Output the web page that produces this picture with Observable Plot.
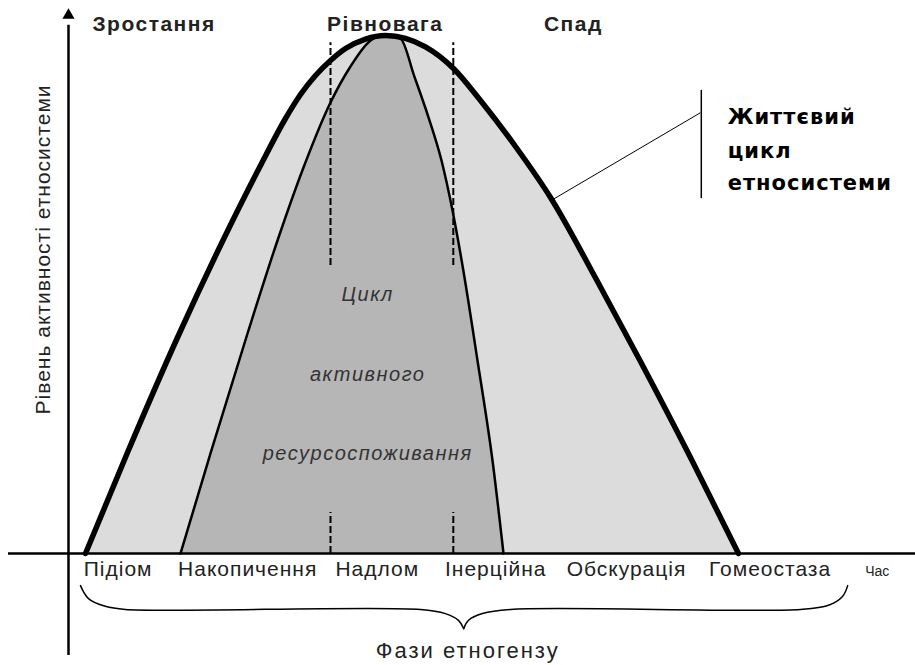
<!DOCTYPE html>
<html>
<head>
<meta charset="utf-8">
<script src="https://cdn.jsdelivr.net/npm/d3@7"></script>
<script src="https://cdn.jsdelivr.net/npm/@observablehq/plot@0.6"></script>
<style>
  body { margin: 0; background: #fff; }
</style>
</head>
<body>
<div id="chart"></div>
<script>
// Life cycle of the ethnic system (outer curve): time vs activity level
const outerT = [2.125, 7.375, 13.625, 19, 24, 27.125, 29, 30.875, 32.75, 34.625, 37.125, 39.625, 42.125, 44.625, 48.125, 51.5, 55.875, 60.25, 66.125, 71.5, 77.75, 83.75];
const outerA = [0, 19.5, 41.7, 59.46, 74.9, 83.98, 88.61, 92.28, 95.17, 97.49, 99.32, 100, 99.46, 97.8, 93.63, 87.45, 78.57, 68.73, 52.51, 37.07, 18.53, 0];

// Cycle of active resource consumption (inner curve)
const innerT = [14, 17.75, 22.375, 26.125, 29.375, 32.75, 35.25, 37.75, 39.75, 41.5, 43.25, 45, 46.625, 48, 49.25, 51.125, 53, 54.375];
const innerA = [0, 19.31, 42.47, 60.42, 74.52, 87.07, 94.02, 99.03, 100.19, 99.42, 92.0, 84.2, 75.87, 66.22, 55.6, 37.26, 17.95, 0];

// Phase boundaries (dashed)
const boundaryT = [32.75, 48.1];

// Phases of ethnogenesis (x-axis labels)
const phases = ["Підіом", "Накопичення", "Надлом", "Інерційна", "Обскурація", "Гомеостаза"];
const phaseT = [6.2, 22.4, 38.6, 53.4, 69.75, 87.7];

// Stages (top labels)
const stages = ["Зростання", "Рівновага", "Спад"];
const stageT = [10.7, 39.6, 63.1];

// Annotation text
const lifeLines = ["Життєвий", "цикл", "етносистеми"];
const lifeA = [84.3, 77.7, 71.5];
const cycleLines = ["Цикл", "активного", "ресурсоспоживання"];
const cycleA = [50.0, 34.6, 19.2];

// Brace under the phases
const braceT = [1.5, 2.5, 4.6, 7.1, 44, 47.1, 48.75, 49.4, 49.4, 50, 51.75, 55.25, 91.5, 95, 96.75, 97.4];
const braceA = [-6.2, -8.7, -10.2, -10.8, -10.8, -11.6, -12.9, -14.5, -14.5, -12.9, -11.6, -10.8, -10.8, -10, -8.3, -6.2];
const braceSide = ["L","L","L","L","L","L","L","L","R","R","R","R","R","R","R","R"];

const outer = outerT.map((t, i) => ({t, a: outerA[i]}));
const inner = innerT.map((t, i) => ({t, a: innerA[i]}));
const brace = braceT.map((t, i) => ({t, a: braceA[i], side: braceSide[i]}));

const plot = Plot.plot({
  width: 915,
  height: 665,
  marginLeft: 68,
  marginRight: 47,
  marginTop: 35,
  marginBottom: 112,
  x: {domain: [0, 100], axis: null},
  y: {domain: [0, 100], axis: null},
  style: {background: "#fff", fontFamily: "'Liberation Sans', Arial, sans-serif", overflow: "visible"},
  marks: [
    Plot.areaY(outer, {x: "t", y: "a", fill: "#dcdcdc", curve: "monotone-x"}),
    Plot.areaY(inner, {x: "t", y: "a", fill: "#b6b6b6", curve: "monotone-x"}),
    Plot.line(inner, {x: "t", y: "a", stroke: "#000", strokeWidth: 2.5, curve: "monotone-x"}),
    Plot.ruleX(boundaryT, {y1: 55.6, y2: 98.6, stroke: "#000", strokeWidth: 2, strokeDasharray: "7,3"}),
    Plot.ruleX(boundaryT, {y1: 0, y2: 7.9, stroke: "#000", strokeWidth: 2, strokeDasharray: "7,3"}),
    Plot.line(outer, {x: "t", y: "a", stroke: "#000", strokeWidth: 5.5, curve: "monotone-x"}),
    // axes
    Plot.ruleY([0], {x1: -7.5, x2: 106, stroke: "#000", strokeWidth: 2.5}),
    Plot.ruleX([0], {y1: -19.7, y2: 102, stroke: "#000", strokeWidth: 2.5}),
    Plot.dot([{t: 0, a: 103.9}], {x: "t", y: "a", symbol: "triangle", r: 4.5, fill: "#000", stroke: null}),
    // annotation pointer
    Plot.link([{x1: 60.5, y1: 68.3, x2: 79, y2: 85.1}], {x1: "x1", y1: "y1", x2: "x2", y2: "y2", stroke: "#000", strokeWidth: 1}),
    Plot.ruleX([79.1], {y1: 68.5, y2: 89.4, stroke: "#000", strokeWidth: 1.5}),
    // brace
    Plot.line(brace, {x: "t", y: "a", z: "side", stroke: "#000", strokeWidth: 1.5, curve: "catmull-rom"}),
    // texts
    Plot.text(stages, {x: (d, i) => stageT[i], y: 102.2, text: d => d, fontSize: 21, fontWeight: "bold", fill: "#222", ariaDescription: "stage"}),
    Plot.text(phases, {x: (d, i) => phaseT[i], y: -2.95, text: d => d, fontSize: 21, fill: "#222", ariaDescription: "phase"}),
    Plot.text(["Час"], {x: 101.1, y: -3.4, text: d => d, fontSize: 14, fill: "#222"}),
    Plot.text(["Фази етногензу"], {x: 49.9, y: -18.9, text: d => d, fontSize: 22, fill: "#222", ariaDescription: "phasetitle"}),
    Plot.text(["Рівень активності етносистеми"], {x: -3.1, y: 58.7, text: d => d, rotate: -90, fontSize: 21, fill: "#222", ariaDescription: "ylabel"}),
    Plot.text(lifeLines, {x: 82.4, y: (d, i) => lifeA[i], text: d => d, textAnchor: "start", fontFamily: "'DejaVu Sans', sans-serif", fontWeight: "bold", fontSize: 21, fill: "#000", ariaDescription: "life"}),
    Plot.text(cycleLines, {x: 37.4, y: (d, i) => cycleA[i], text: d => d, fontStyle: "italic", fontSize: 20, fill: "#333", ariaDescription: "cycle"})
  ]
});

document.getElementById("chart").appendChild(plot);
const svg = d3.select(plot);
svg.selectAll('g[aria-description="stage"] text').style("letter-spacing", "1.5px");
svg.selectAll('g[aria-description="phase"] text').style("letter-spacing", "1px");
svg.selectAll('g[aria-description="phasetitle"] text').style("letter-spacing", "2px");
svg.selectAll('g[aria-description="ylabel"] text').style("letter-spacing", "1px");
svg.selectAll('g[aria-description="life"] text').style("letter-spacing", "1px");
svg.selectAll('g[aria-description="cycle"] text').style("letter-spacing", "1.5px");
</script>
</body>
</html>
